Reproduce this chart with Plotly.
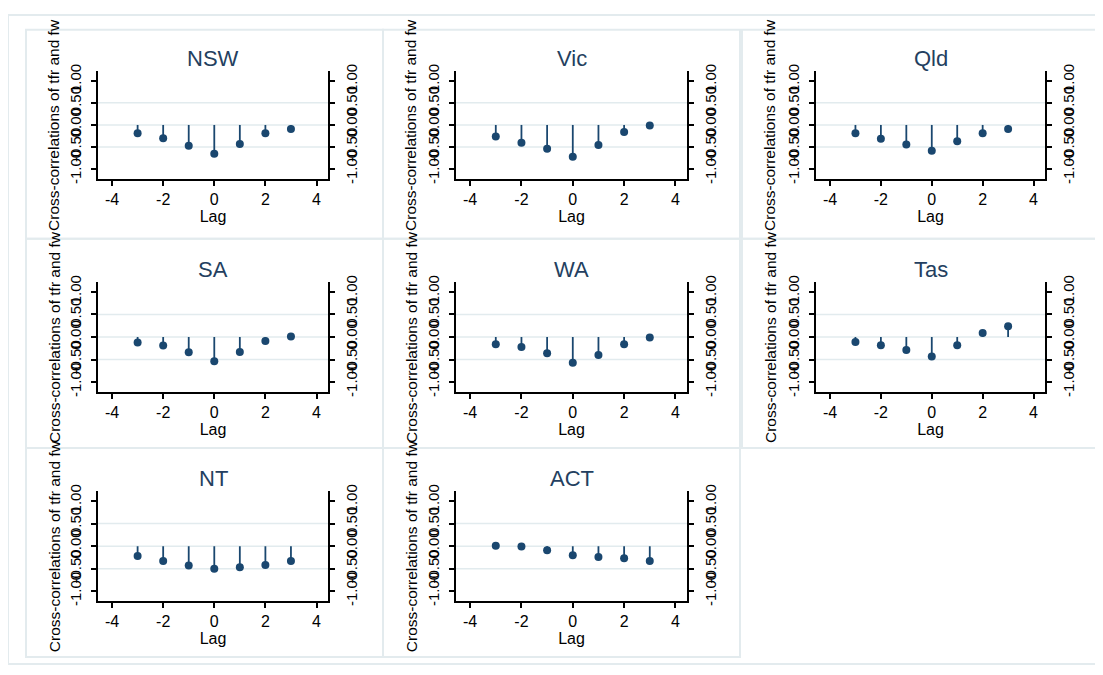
import plotly.graph_objects as go

# ---------------- data ----------------
lags = [-3, -2, -1, 0, 1, 2, 3]
states = ["NSW", "Vic", "Qld", "SA", "WA", "Tas", "NT", "ACT"]
nsw = [-0.19, -0.30, -0.47, -0.65, -0.43, -0.19, -0.09]
vic = [-0.26, -0.40, -0.54, -0.72, -0.45, -0.16, -0.01]
qld = [-0.19, -0.31, -0.44, -0.58, -0.37, -0.19, -0.09]
sa = [-0.12, -0.19, -0.34, -0.54, -0.33, -0.09, 0.01]
wa = [-0.16, -0.22, -0.36, -0.57, -0.40, -0.16, -0.01]
tas = [-0.11, -0.18, -0.29, -0.43, -0.18, 0.09, 0.24]
nt = [-0.22, -0.33, -0.43, -0.50, -0.47, -0.42, -0.33]
act = [0.01, -0.01, -0.09, -0.20, -0.24, -0.27, -0.33]
series = [nsw, vic, qld, sa, wa, tas, nt, act]

y_ticks = [-1.0, -0.5, 0.0, 0.5, 1.0]
y_tick_labels = ["-1.00", "-0.50", "0.00", "0.50", "1.00"]
x_ticks = [-4, -2, 0, 2, 4]
x_tick_labels = ["-4", "-2", "0", "2", "4"]
grid_vals = [-0.5, 0.0, 0.5]
y_title = "Cross-correlations of tfr and fw"
x_title = "Lag"

# ---------------- geometry (page pixels) ----------------
OFF = 8                      # default page body margin
W, H = 1103 - 2 * OFF, 675 - 2 * OFF
col_plot = [(98, 328), (456, 687), (816, 1045)]
row_plot = [(65, 175), (280, 392), (493, 605)]
col_box = [(26, 383), (383, 740), (742, 1098)]
row_box = [(23, 236), (236, 449), (449, 662)]

def px(x):
    return (x - OFF) / W

def py(y):
    return 1 - (y - OFF) / H

MARK = "#1a476f"
FONT = "Arial, Liberation Sans, sans-serif"
GRID = "#e2ebee"
BOX = "#e3ebee"

fig = go.Figure()
shapes = []
annotations = []
layout = {}

# outer frame
shapes.append(dict(type="rect", xref="paper", yref="paper",
                   x0=px(8), x1=px(1100), y0=py(669), y1=py(8),
                   line=dict(color=BOX, width=2), layer="below"))

for i, (name, vals) in enumerate(zip(states, series)):
    r, c = divmod(i, 3)
    k = i + 1
    k2 = i + 9
    xa = "x" if k == 1 else f"x{k}"
    ya = "y" if k == 1 else f"y{k}"
    ya2 = f"y{k2}"

    # panel box
    shapes.append(dict(type="rect", xref="paper", yref="paper",
                       x0=px(col_box[c][0]), x1=px(col_box[c][1]),
                       y0=py(row_box[r][1]), y1=py(row_box[r][0]),
                       line=dict(color=BOX, width=2), layer="below"))
    # grid lines
    for g in grid_vals:
        shapes.append(dict(type="line", xref=f"{xa} domain", yref=ya,
                           x0=0, x1=1, y0=g, y1=g,
                           line=dict(color=GRID, width=1.5), layer="below"))

    # stems
    sx, sy = [], []
    for l, v in zip(lags, vals):
        sx += [l, l, None]
        sy += [0, v, None]
    fig.add_trace(go.Scatter(x=sx, y=sy, mode="lines", xaxis=xa, yaxis=ya,
                             line=dict(color=MARK, width=1.8),
                             hoverinfo="skip", showlegend=False))
    fig.add_trace(go.Scatter(x=lags, y=vals, mode="markers", xaxis=xa, yaxis=ya,
                             marker=dict(color=MARK, size=8, symbol="circle"),
                             showlegend=False, name=name))
    fig.add_trace(go.Scatter(x=lags, y=vals, mode="markers", xaxis=xa, yaxis=ya2,
                             marker=dict(opacity=0), hoverinfo="skip",
                             showlegend=False))

    x0, x1 = col_plot[c]
    y0, y1 = row_plot[r]
    layout[f"xaxis{k}"] = dict(
        domain=[px(x0), px(x1)], anchor=ya, range=[-4.55, 4.45],
        tickvals=x_ticks, ticktext=x_tick_labels,
        ticks="outside", ticklen=5, tickwidth=1.5,
        tickcolor="black", showline=True, linecolor="black", linewidth=1.8,
        showgrid=False, zeroline=False,
        tickfont=dict(family=FONT, size=16, color="black"),
        title=dict(text=x_title, font=dict(family=FONT, size=16, color="black"),
                   standoff=0),
    )
    yax = dict(
        domain=[py(y1), py(y0)], anchor=xa, range=[-1.22, 1.22],
        tickvals=y_ticks, ticktext=y_tick_labels, tickangle=-90,
        ticks="outside", ticklen=5, tickwidth=1.5, tickcolor="black",
        showline=True, linecolor="black", linewidth=1.8,
        showgrid=False, zeroline=False, ticklabelstandoff=4,
        tickfont=dict(family=FONT, size=15, color="black"),
    )
    layout[f"yaxis{k}"] = yax
    yax2 = dict(yax)
    yax2.pop("domain")
    yax2.update(overlaying=ya, side="right", anchor=xa)
    layout[f"yaxis{k2}"] = yax2

    # panel title
    annotations.append(dict(text=name, xref="paper", yref="paper",
                            x=px((x0 + x1) / 2), y=py(y0 - 13),
                            xanchor="center", yanchor="middle", showarrow=False,
                            font=dict(family=FONT, size=22, color="#243f60")))
    # y axis title
    annotations.append(dict(text=y_title, xref="paper", yref="paper",
                            x=px(col_box[c][0] + 28), y=py((y0 + y1) / 2),
                            xanchor="center", yanchor="middle", showarrow=False,
                            textangle=-90,
                            font=dict(family=FONT, size=15.5, color="black")))

fig.update_layout(
    width=W, height=H, margin=dict(l=0, r=0, t=0, b=0),
    paper_bgcolor="white", plot_bgcolor="white",
    shapes=shapes, annotations=annotations, showlegend=False,
    **layout,
)

fig.write_html("out.html", config={"displayModeBar": False})
